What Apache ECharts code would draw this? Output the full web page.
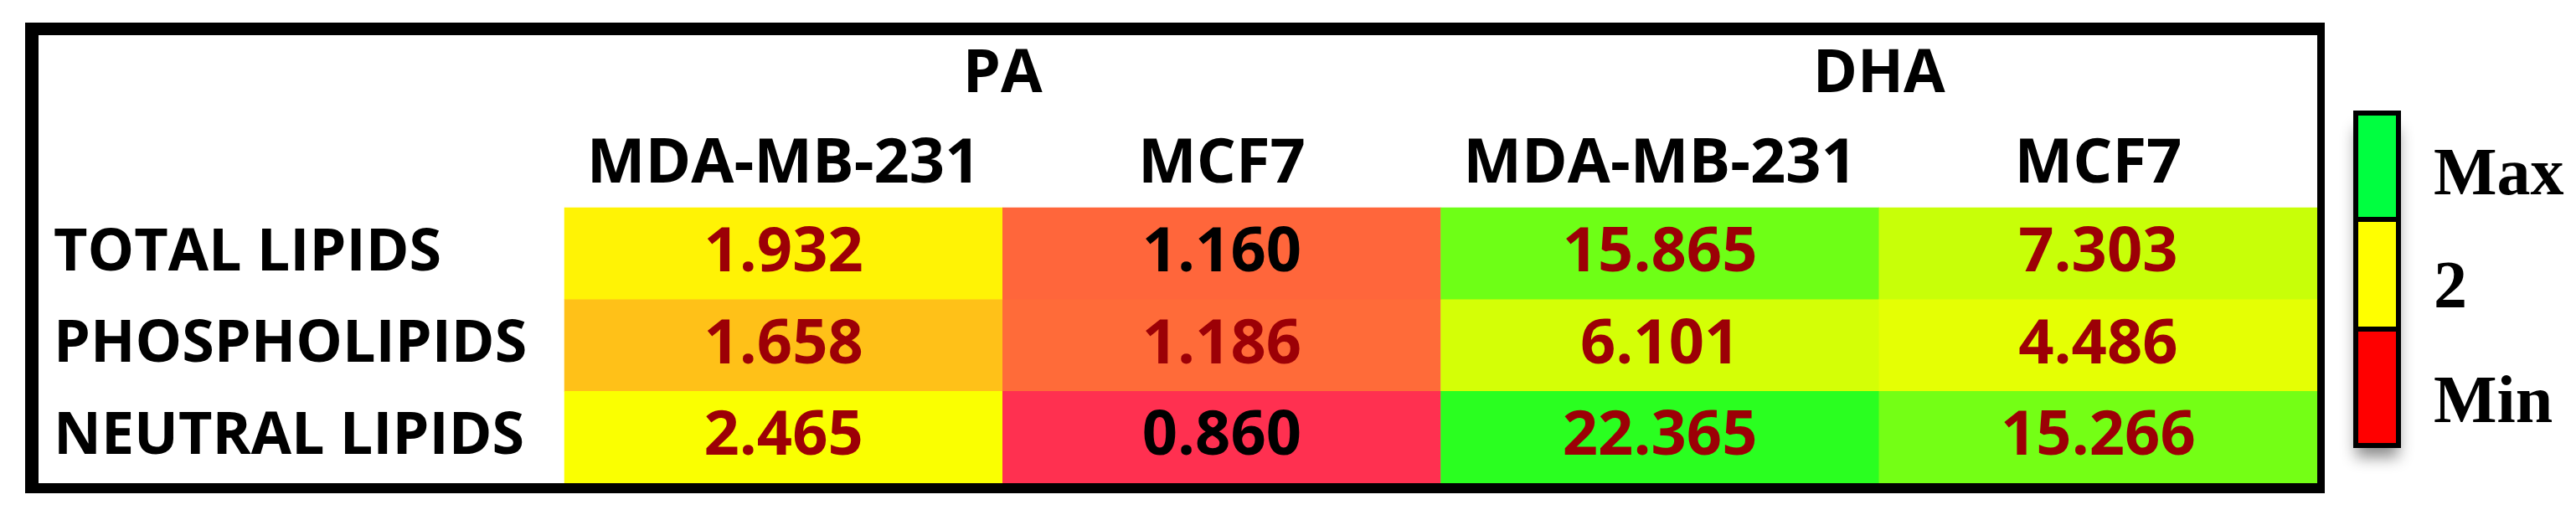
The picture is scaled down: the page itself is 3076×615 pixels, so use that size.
<!DOCTYPE html>
<html><head><meta charset="utf-8">
<script src="https://cdn.jsdelivr.net/npm/echarts@6/dist/echarts.min.js"></script>
<style>html,body{margin:0;padding:0;background:#fff}#c{width:3076px;height:615px}</style>
</head><body><div id="c"></div>
<script>
// ---- data ----
const treatments = ['PA', 'DHA'];
const cellLines = ['MDA-MB-231', 'MCF7', 'MDA-MB-231', 'MCF7'];
const lipidClasses = ['TOTAL LIPIDS', 'PHOSPHOLIPIDS', 'NEUTRAL LIPIDS'];
// columns: PA MDA-MB-231, PA MCF7, DHA MDA-MB-231, DHA MCF7
const totalLipids   = [1.932, 1.160, 15.865, 7.303];
const phospholipids = [1.658, 1.186, 6.101, 4.486];
const neutralLipids = [2.465, 0.860, 22.365, 15.266];
const legendLabels = ['Max', '2', 'Min'];
const scaleMid = 2;
// cells whose value text is printed in black: [column, row]
const blackLabelCells = [[1, 0], [1, 2]];

// ---- styles ----
const minColor = '#FF3050', midColor = '#FFFF00', maxColor = '#2AFF20';
const sansFont = "'Open Sans', 'Noto Sans', 'DejaVu Sans', sans-serif";
const serifFont = "'Liberation Serif', 'DejaVu Serif', serif";

const rows = [totalLipids, phospholipids, neutralLipids];
const allVals = rows.flat();
const vMin = Math.min(...allVals), vMax = Math.max(...allVals);

function scaleColor(v) {
  if (v <= scaleMid) {
    return echarts.color.lerp((v - vMin) / (scaleMid - vMin), [minColor, midColor]);
  }
  return echarts.color.lerp((v - scaleMid) / (vMax - scaleMid), [midColor, maxColor]);
}

const heatData = [];
rows.forEach((vals, r) => {
  vals.forEach((v, c) => {
    const item = { value: [c, r, v] };
    if (blackLabelCells.some(p => p[0] === c && p[1] === r)) item.label = { color: '#000' };
    heatData.push(item);
  });
});

const chart = echarts.init(document.getElementById('c'), null, { renderer: 'canvas' });
const W = 3076, H = 615;
const gridL = 674, gridR = 2767, gridT = 248, gridB = 577;

const option = {
  backgroundColor: '#fff',
  animation: false,
  grid: { left: gridL, right: W - gridR, top: gridT, bottom: H - gridB, containLabel: false },
  xAxis: [
    {
      type: 'category', data: cellLines, position: 'top',
      axisLine: { show: false }, axisTick: { show: false }, splitLine: { show: false },
      axisLabel: { margin: 51, verticalAlign: 'middle', color: '#000',
        fontFamily: sansFont, fontWeight: 'bold', fontSize: 74, interval: 0 }
    },
    {
      type: 'category', data: treatments, position: 'top',
      axisLine: { show: false }, axisTick: { show: false }, splitLine: { show: false },
      axisLabel: { margin: 159, verticalAlign: 'middle', color: '#000',
        fontFamily: sansFont, fontWeight: 'bold', fontSize: 72, interval: 0 }
    }
  ],
  yAxis: {
    type: 'category', data: lipidClasses, inverse: true,
    axisLine: { show: false }, axisTick: { show: false }, splitLine: { show: false },
    axisLabel: { margin: gridL - 64, align: 'left', verticalAlign: 'middle', color: '#000',
      fontFamily: sansFont, fontWeight: 'bold', fontSize: 70, interval: 0 }
  },
  series: [{
    type: 'heatmap',
    xAxisIndex: 0, yAxisIndex: 0,
    data: heatData,
    itemStyle: { color: p => scaleColor(p.value[2]), borderWidth: 0 },
    label: {
      show: true, color: '#9C0006', fontFamily: sansFont, fontWeight: 'bold', fontSize: 74,
      formatter: p => p.value[2].toFixed(3)
    },
    emphasis: { disabled: true }
  }],
  graphic: [
    // table frame
    { type: 'rect', z: 100, shape: { x: 30, y: 27, width: 2746, height: 15 }, style: { fill: '#000' } },
    { type: 'rect', z: 100, shape: { x: 30, y: 577, width: 2746, height: 12 }, style: { fill: '#000' } },
    { type: 'rect', z: 100, shape: { x: 30, y: 27, width: 16, height: 562 }, style: { fill: '#000' } },
    { type: 'rect', z: 100, shape: { x: 2767, y: 27, width: 9, height: 562 }, style: { fill: '#000' } },
    // colour legend
    { type: 'rect', z: 90, shape: { x: 2813, y: 140, width: 51, height: 392 },
      style: { fill: '#fff', shadowBlur: 18, shadowColor: 'rgba(0,0,0,0.45)', shadowOffsetY: 14 } },
    { type: 'rect', z: 91, shape: { x: 2813, y: 135, width: 51, height: 127 },
      style: { fill: '#00FF40', stroke: '#000', lineWidth: 6 } },
    { type: 'rect', z: 91, shape: { x: 2813, y: 262, width: 51, height: 131 },
      style: { fill: midColor, stroke: '#000', lineWidth: 6 } },
    { type: 'rect', z: 91, shape: { x: 2813, y: 393, width: 51, height: 139 },
      style: { fill: '#FF0000', stroke: '#000', lineWidth: 6 } },
    { type: 'text', z: 91, x: 2906, y: 211, style: { text: legendLabels[0], fill: '#000',
      font: 'bold 80px ' + serifFont, verticalAlign: 'middle', align: 'left' } },
    { type: 'text', z: 91, x: 2906, y: 346, style: { text: legendLabels[1], fill: '#000',
      font: 'bold 80px ' + serifFont, verticalAlign: 'middle', align: 'left' } },
    { type: 'text', z: 91, x: 2906, y: 483, style: { text: legendLabels[2], fill: '#000',
      font: 'bold 80px ' + serifFont, verticalAlign: 'middle', align: 'left' } }
  ]
};
chart.setOption(option);
</script>
</body></html>
